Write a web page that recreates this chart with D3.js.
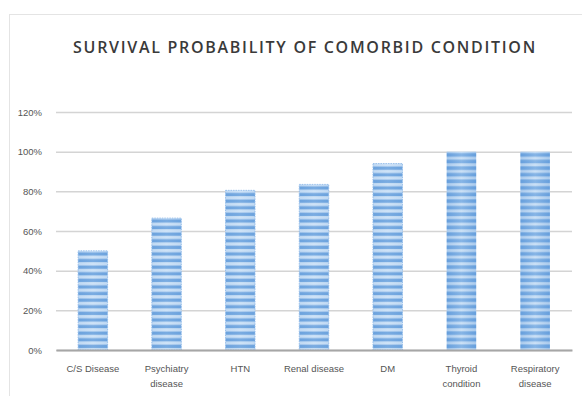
<!DOCTYPE html>
<html>
<head>
<meta charset="utf-8">
<script src="https://cdn.jsdelivr.net/npm/d3@7"></script>
<style>
  body { margin: 0; background: #fff; }
  svg { display: block; }
</style>
</head>
<body>
<div id="chart"></div>
<script>
'use strict';

// values
const conditions = [
    ["C/S Disease"],
    ["Psychiatry", "disease"],
    ["HTN"],
    ["Renal disease"],
    ["DM"],
    ["Thyroid", "condition"],
    ["Respiratory", "disease"]
];
const survival = [0.50, 0.665, 0.805, 0.835, 0.94, 1.0, 1.0];
const solidBars = [false, false, false, false, false, true, true];
const yTicks = [0, 0.2, 0.4, 0.6, 0.8, 1.0, 1.2];

const width = 582, height = 396;
const margin = { top: 112, right: 10, bottom: 46, left: 56 };

let svg = d3.select("#chart").append("svg")
    .attr("width", width)
    .attr("height", height);

// chart frame
svg.append("rect")
    .attr("x", 9.5).attr("y", 14.5)
    .attr("width", width).attr("height", height)
    .attr("fill", "none")
    .attr("stroke", "#e4e4e4");

let defs = svg.append("defs");
let stripes = defs.append("pattern")
    .attr("id", "stripes")
    .attr("patternUnits", "userSpaceOnUse")
    .attr("width", 8).attr("height", 6.6);
stripes.append("rect").attr("width", 8).attr("height", 6.6).attr("fill", "#d2e5f8");
stripes.append("rect").attr("y", 1.5).attr("width", 8).attr("height", 3.3).attr("fill", "#6ea4de");

let grad = defs.append("linearGradient").attr("id", "solidGrad")
    .attr("x1", 0).attr("x2", 1).attr("y1", 0).attr("y2", 0);
grad.append("stop").attr("offset", "0%").attr("stop-color", "#5d97d8");
grad.append("stop").attr("offset", "50%").attr("stop-color", "#bcd8f4");
grad.append("stop").attr("offset", "100%").attr("stop-color", "#5d97d8");
let solid = defs.append("pattern")
    .attr("id", "solidStripes")
    .attr("patternUnits", "userSpaceOnUse")
    .attr("width", 8).attr("height", 6.6);
solid.append("rect").attr("width", 8).attr("height", 6.6).attr("fill", "#d3e5f7");
solid.append("rect").attr("y", 1.3).attr("width", 8).attr("height", 3.6).attr("fill", "#6aa2de");

let x = d3.scaleBand()
    .domain(d3.range(conditions.length))
    .range([margin.left, width - margin.right])
    .paddingInner(0.6)
    .paddingOuter(0.3);

let y = d3.scaleLinear()
    .domain([0, 1.2])
    .range([height - margin.bottom, margin.top]);

svg.append("text")
    .attr("x", 305).attr("y", 53)
    .attr("text-anchor", "middle")
    .attr("font-family", "Open Sans, sans-serif")
    .attr("font-size", 16)
    .attr("font-weight", 600)
    .attr("letter-spacing", 1.7)
    .attr("fill", "#3a3a3a")
    .text("SURVIVAL PROBABILITY OF COMORBID CONDITION");

// grid
let yAxis = d3.axisLeft(y)
    .tickValues(yTicks)
    .tickFormat(d3.format(".0%"))
    .tickSize(-(width - margin.right - margin.left));
let gy = svg.append("g")
    .attr("transform", `translate(${margin.left},0)`)
    .call(yAxis);
gy.select(".domain").remove();
gy.selectAll(".tick line").attr("stroke", "#d4d4d4").attr("stroke-width", 1.5);
gy.selectAll(".tick text")
    .attr("x", -14)
    .attr("fill", "#555")
    .attr("font-family", "Liberation Sans Narrow, Liberation Sans, sans-serif")
    .attr("font-size", 9.5);

// bars
svg.append("g").selectAll("rect")
    .data(survival)
    .join("rect")
    .attr("x", (d, i) => x(i))
    .attr("y", d => y(d))
    .attr("width", x.bandwidth())
    .attr("height", d => y(0) - y(d))
    .attr("fill", (d, i) => solidBars[i] ? "url(#solidStripes)" : "url(#stripes)")
    .attr("stroke", (d, i) => solidBars[i] ? "none" : "#9cc2ec")
    .attr("stroke-dasharray", "1.5 1");

svg.append("g").selectAll("rect")
    .data(survival)
    .join("rect")
    .attr("x", (d, i) => x(i))
    .attr("y", d => y(d))
    .attr("width", x.bandwidth())
    .attr("height", d => y(0) - y(d))
    .attr("fill", "url(#solidGrad)")
    .attr("opacity", (d, i) => solidBars[i] ? 0.35 : 0.15);

// baseline
let xAxis = d3.axisBottom(x).tickSize(0).tickFormat("");
let gx = svg.append("g")
    .attr("transform", `translate(0,${y(0)})`)
    .call(xAxis);
gx.select(".domain").attr("stroke", "#a6a6a6").attr("stroke-width", 2);

let labels = svg.append("g").selectAll("text")
    .data(conditions)
    .join("text")
    .attr("x", (d, i) => x(i) + x.bandwidth() / 2)
    .attr("y", y(0) + 22)
    .attr("text-anchor", "middle")
    .attr("fill", "#555")
    .attr("font-family", "Liberation Sans Narrow, Liberation Sans, sans-serif")
    .attr("font-size", 9.5);
labels.selectAll("tspan")
    .data(d => d)
    .join("tspan")
    .attr("x", function() { return this.parentNode.getAttribute("x"); })
    .attr("dy", (d, i) => i === 0 ? 0 : 15)
    .text(d => d);
</script>
</body>
</html>
